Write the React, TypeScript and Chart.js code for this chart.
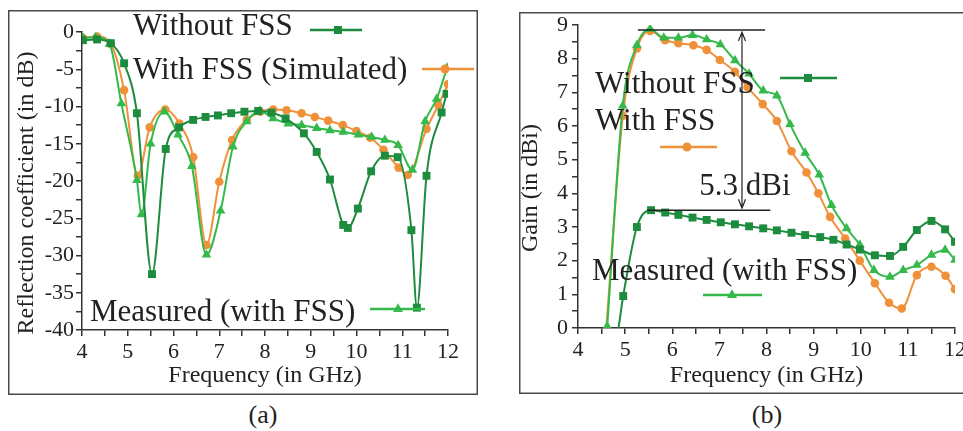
import React, { useEffect, useRef } from 'react';
import { Chart, registerables } from 'chart.js';

Chart.register(...registerables);

const SERIF = "'Liberation Serif', 'Times New Roman', serif";
const GREEN_DARK = '#1d8c3e';
const GREEN_LIGHT = '#35b94b';
const ORANGE = '#f09139';
const INK = '#222222';

// ---------- Panel (a): reflection coefficient ----------
const freqWithoutA = [4.02, 4.33, 4.63, 4.92, 5.2, 5.53, 5.83, 6.12, 6.43, 6.7, 6.97, 7.26, 7.55, 7.85, 8.14, 8.45, 8.85, 9.13, 9.42, 9.71, 9.81, 10.03, 10.32, 10.62, 10.9, 11.2, 11.32, 11.53, 11.86, 11.97];
const s11WithoutA = [-1.1, -1.0, -1.5, -4.2, -10.9, -32.5, -15.7, -12.8, -11.8, -11.4, -11.2, -10.9, -10.7, -10.6, -10.8, -11.6, -13.6, -16.1, -19.8, -25.9, -26.3, -23.7, -18.7, -16.6, -16.8, -26.6, -37.0, -19.3, -10.8, -8.3];

const freqSimA = [4.02, 4.33, 4.63, 4.92, 5.22, 5.48, 5.82, 6.13, 6.43, 6.72, 7.0, 7.28, 7.6, 7.9, 8.18, 8.47, 8.8, 9.09, 9.38, 9.7, 10.0, 10.3, 10.59, 10.92, 11.12, 11.53, 11.79, 12.0];
const s11SimA = [-0.8, -0.6, -1.6, -7.8, -19.3, -12.8, -10.4, -12.3, -16.8, -28.6, -20.1, -14.5, -11.8, -10.7, -10.4, -10.5, -10.9, -11.4, -11.9, -12.5, -13.3, -14.2, -15.8, -18.2, -19.2, -13.0, -9.8, -7.0];

const freqMeasA = [4.02, 4.3, 4.6, 4.86, 5.2, 5.3, 5.5, 5.8, 6.1, 6.4, 6.72, 7.03, 7.3, 7.6, 7.89, 8.18, 8.51, 8.8, 9.13, 9.42, 9.71, 10.04, 10.33, 10.62, 10.91, 11.22, 11.5, 11.75, 11.98];
const s11MeasA = [-0.8, -0.7, -1.6, -9.6, -19.9, -24.5, -15.0, -10.7, -13.8, -18.0, -29.9, -24.0, -15.4, -12.0, -10.6, -11.6, -12.3, -12.5, -12.9, -13.2, -13.4, -13.8, -14.1, -14.5, -15.2, -18.5, -12.0, -9.0, -4.8];

// ---------- Panel (b): gain ----------
const freqWithoutB = [4.86, 4.96, 5.25, 5.55, 5.85, 6.13, 6.43, 6.73, 7.03, 7.33, 7.63, 7.93, 8.22, 8.53, 8.82, 9.14, 9.42, 9.7, 9.98, 10.3, 10.62, 10.9, 11.19, 11.5, 11.79, 12.0];
const gainWithoutB = [0, 0.95, 3.0, 3.5, 3.43, 3.36, 3.28, 3.21, 3.14, 3.08, 3.02, 2.96, 2.9, 2.83, 2.76, 2.7, 2.62, 2.48, 2.33, 2.16, 2.14, 2.41, 2.91, 3.18, 2.93, 2.56];

const freqSimB = [4.6, 4.95, 5.25, 5.53, 5.85, 6.13, 6.45, 6.73, 7.01, 7.33, 7.6, 7.92, 8.22, 8.53, 8.85, 9.1, 9.35, 9.67, 9.98, 10.3, 10.6, 10.87, 11.19, 11.5, 11.8, 12.0];
const gainSimB = [0, 6.3, 8.3, 8.82, 8.55, 8.46, 8.4, 8.26, 7.96, 7.61, 7.15, 6.65, 6.15, 5.25, 4.62, 4.0, 3.3, 2.66, 2.0, 1.33, 0.75, 0.58, 1.57, 1.82, 1.55, 1.15];

const freqMeasB = [4.62, 4.95, 5.25, 5.53, 5.82, 6.13, 6.43, 6.73, 7.02, 7.33, 7.63, 7.93, 8.22, 8.5, 8.82, 9.12, 9.38, 9.7, 9.98, 10.28, 10.62, 10.9, 11.19, 11.5, 11.79, 12.0];
const gainMeasB = [0.05, 6.6, 8.4, 8.88, 8.62, 8.62, 8.7, 8.57, 8.42, 7.95, 7.55, 7.05, 6.9, 6.05, 5.2, 4.55, 3.65, 2.96, 2.47, 1.72, 1.52, 1.72, 1.87, 2.17, 2.32, 2.02];

// annotation of panel (b)
const annTopGain = 8.85;
const annTopFreq = [5.27, 7.97];
const annBottomGain = 3.5;
const annBottomFreq = [5.47, 8.08];
const annArrowFreq = 7.48;
const annLabel = '5.3 dBi';

const xAxisTitle = 'Frequency (in GHz)';
const yTitleA = 'Reflection coefficient (in dB)';
const yTitleB = 'Gain (in dBi)';

type Marker = 'rect' | 'circle' | 'triangle';

function drawMarker(ctx: CanvasRenderingContext2D, kind: Marker, x: number, y: number, color: string) {
  ctx.save();
  ctx.fillStyle = color;
  ctx.beginPath();
  if (kind === 'rect') ctx.rect(x - 4, y - 4, 8, 8);
  else if (kind === 'circle') ctx.arc(x, y, 4.5, 0, Math.PI * 2);
  else {
    const r = 5.8;
    ctx.moveTo(x, y - r);
    ctx.lineTo(x + r * 0.866, y + r * 0.5);
    ctx.lineTo(x - r * 0.866, y + r * 0.5);
    ctx.closePath();
  }
  ctx.fill();
  ctx.restore();
}

type LegendItem = { text: string; tx: number; ty: number; x1: number; x2: number; ly: number; mx: number; color: string; marker: Marker };

type PanelSpec = {
  width: number;
  height: number;
  area: { left: number; top: number; right: number; bottom: number };
  yMin: number;
  yMax: number;
  yStep: number;
  yMajor: number;
  yTitle: string;
  yTitlePos: { x: number; y: number };
  xTitlePad: number;
  tickPadY: number;
  frameRight: boolean;
  legend: LegendItem[];
  datasets: any[];
  annotate?: (chart: any) => void;
};

function series(xs: number[], ys: number[], label: string, color: string, marker: Marker, hideFirst = false) {
  return {
    label,
    data: xs.map((x, i) => ({ x, y: ys[i] })),
    borderColor: color,
    backgroundColor: color,
    borderWidth: 2,
    pointStyle: marker,
    pointRadius: (c: any) => (hideFirst && c.dataIndex === 0 ? 0 : marker === 'rect' ? 5.6 : marker === 'triangle' ? 5.6 : 4.3),
    pointBorderWidth: 0,
    cubicInterpolationMode: 'monotone',
    fill: false,
  };
}

function makeChart(canvas: HTMLCanvasElement, p: PanelSpec) {
  const deco = {
    id: 'panelDeco',
    beforeDraw(chart: any) {
      const ctx = chart.ctx as CanvasRenderingContext2D;
      ctx.save();
      ctx.fillStyle = '#ffffff';
      ctx.fillRect(0, 0, p.width, p.height);
      ctx.strokeStyle = '#4a4a4a';
      ctx.lineWidth = 1.5;
      ctx.beginPath();
      if (p.frameRight) {
        ctx.rect(0.75, 0.75, p.width - 1.5, p.height - 1.5);
      } else {
        ctx.moveTo(p.width + 2, 0.75);
        ctx.lineTo(0.75, 0.75);
        ctx.lineTo(0.75, p.height - 0.75);
        ctx.lineTo(p.width + 2, p.height - 0.75);
      }
      ctx.stroke();
      ctx.restore();
    },
    afterDatasetsDraw(chart: any) {
      const ctx = chart.ctx as CanvasRenderingContext2D;
      ctx.save();
      // y title
      ctx.translate(p.yTitlePos.x, p.yTitlePos.y);
      ctx.rotate(-Math.PI / 2);
      ctx.font = `24px ${SERIF}`;
      ctx.fillStyle = INK;
      ctx.textAlign = 'center';
      ctx.textBaseline = 'middle';
      ctx.fillText(p.yTitle, 0, 0);
      ctx.restore();

      if (p.annotate) p.annotate(chart);

      for (const it of p.legend) {
        ctx.save();
        ctx.font = `31px ${SERIF}`;
        ctx.fillStyle = INK;
        ctx.textAlign = 'left';
        ctx.textBaseline = 'alphabetic';
        ctx.fillText(it.text, it.tx, it.ty);
        ctx.strokeStyle = it.color;
        ctx.lineWidth = 2.5;
        ctx.beginPath();
        ctx.moveTo(it.x1, it.ly);
        ctx.lineTo(it.x2, it.ly);
        ctx.stroke();
        ctx.restore();
        drawMarker(ctx, it.marker, it.mx, it.ly, it.color);
      }
    },
  };

  return new Chart(canvas, {
    type: 'line',
    data: { datasets: p.datasets },
    options: {
      animation: false,
      responsive: false,
      events: [],
      layout: { padding: { left: 0, top: p.area.top, right: p.width - p.area.right, bottom: 0 } },
      plugins: { legend: { display: false }, tooltip: { enabled: false } },
      scales: {
        x: {
          type: 'linear',
          min: 4,
          max: 12,
          afterFit: (s: any) => {
            s.height = p.height - p.area.bottom;
            s.paddingLeft = 0;
            s.paddingRight = 0;
          },
          ticks: {
            stepSize: 0.5,
            autoSkip: false,
            maxRotation: 0,
            padding: 3,
            color: INK,
            font: { family: SERIF, size: 22 },
            callback: (v: any) => (Number.isInteger(Number(v)) ? String(v) : ''),
          },
          grid: { drawOnChartArea: false, tickLength: 6, color: '#333', lineWidth: 1.5 },
          border: { display: true, color: '#333', width: 1.5 },
          title: {
            display: true,
            text: xAxisTitle,
            color: INK,
            font: { family: SERIF, size: 24 },
            padding: { top: 0, bottom: p.xTitlePad },
          },
        },
        y: {
          type: 'linear',
          min: p.yMin,
          max: p.yMax,
          afterFit: (s: any) => {
            s.width = p.area.left;
            s.paddingTop = 0;
            s.paddingBottom = 0;
          },
          ticks: {
            stepSize: p.yStep,
            autoSkip: false,
            padding: p.tickPadY,
            color: INK,
            font: { family: SERIF, size: 22 },
            callback: (v: any) => {
              const n = Number(v);
              return Math.abs(n / p.yMajor - Math.round(n / p.yMajor)) < 1e-6 ? String(Math.round(n)) : '';
            },
          },
          grid: { drawOnChartArea: false, tickLength: 6, color: '#333', lineWidth: 1.5 },
          border: { display: true, color: '#333', width: 1.5 },
        },
      },
    } as any,
    plugins: [deco],
  });
}

const panelA: PanelSpec = {
  width: 470,
  height: 385,
  area: { left: 74, top: 22, right: 440, bottom: 320 },
  yMin: -40,
  yMax: 0,
  yStep: 2.5,
  yMajor: 5,
  yTitle: yTitleA,
  yTitlePos: { x: 19, y: 183 },
  xTitlePad: 5,
  tickPadY: 2,
  frameRight: true,
  legend: [
    { text: 'Without FSS', tx: 125, ty: 25, x1: 302, x2: 354, ly: 20, mx: 330, color: GREEN_DARK, marker: 'rect' },
    { text: 'With FSS (Simulated)', tx: 125, ty: 69, x1: 414, x2: 466, ly: 59, mx: 437, color: ORANGE, marker: 'circle' },
    { text: 'Measured (with FSS)', tx: 82, ty: 311, x1: 362, x2: 417, ly: 299, mx: 390, color: GREEN_LIGHT, marker: 'triangle' },
  ],
  datasets: [
    series(freqWithoutA, s11WithoutA, 'Without FSS', GREEN_DARK, 'rect'),
    series(freqMeasA, s11MeasA, 'Measured (with FSS)', GREEN_LIGHT, 'triangle'),
    series(freqSimA, s11SimA, 'With FSS (Simulated)', ORANGE, 'circle'),
  ],
};

const panelB: PanelSpec = {
  width: 444,
  height: 382,
  area: { left: 59, top: 13, right: 436, bottom: 316 },
  yMin: 0,
  yMax: 9,
  yStep: 0.5,
  yMajor: 1,
  yTitle: yTitleB,
  yTitlePos: { x: 12, y: 176 },
  xTitlePad: 4,
  tickPadY: 4,
  frameRight: false,
  legend: [
    { text: 'Without FSS', tx: 76, ty: 81, x1: 261, x2: 318, ly: 66, mx: 289, color: GREEN_DARK, marker: 'rect' },
    { text: 'With FSS', tx: 76, ty: 118, x1: 141, x2: 198, ly: 135, mx: 168, color: ORANGE, marker: 'circle' },
    { text: 'Measured (with FSS)', tx: 73, ty: 268, x1: 184, x2: 243, ly: 283, mx: 213, color: GREEN_LIGHT, marker: 'triangle' },
  ],
  datasets: [
    series(freqWithoutB, gainWithoutB, 'Without FSS', GREEN_DARK, 'rect', true),
    series(freqMeasB, gainMeasB, 'Measured (with FSS)', GREEN_LIGHT, 'triangle'),
    series(freqSimB, gainSimB, 'With FSS', ORANGE, 'circle', true),
  ],
  annotate: (chart: any) => {
    const ctx = chart.ctx as CanvasRenderingContext2D;
    const xs = chart.scales.x;
    const ys = chart.scales.y;
    ctx.save();
    ctx.strokeStyle = '#222';
    ctx.lineWidth = 1.5;
    ctx.beginPath();
    ctx.moveTo(xs.getPixelForValue(annTopFreq[0]), ys.getPixelForValue(annTopGain));
    ctx.lineTo(xs.getPixelForValue(annTopFreq[1]), ys.getPixelForValue(annTopGain));
    ctx.moveTo(xs.getPixelForValue(annBottomFreq[0]), ys.getPixelForValue(annBottomGain));
    ctx.lineTo(xs.getPixelForValue(annBottomFreq[1]), ys.getPixelForValue(annBottomGain));
    ctx.stroke();
    const ax = xs.getPixelForValue(annArrowFreq);
    const y1 = ys.getPixelForValue(annTopGain) + 2;
    const y2 = ys.getPixelForValue(annBottomGain) - 2;
    ctx.lineWidth = 1.2;
    ctx.beginPath();
    ctx.moveTo(ax, y1);
    ctx.lineTo(ax, y2);
    ctx.moveTo(ax - 3.5, y1 + 9);
    ctx.lineTo(ax, y1);
    ctx.lineTo(ax + 3.5, y1 + 9);
    ctx.moveTo(ax - 3.5, y2 - 9);
    ctx.lineTo(ax, y2);
    ctx.lineTo(ax + 3.5, y2 - 9);
    ctx.stroke();
    ctx.font = `31px ${SERIF}`;
    ctx.fillStyle = INK;
    ctx.textAlign = 'left';
    ctx.textBaseline = 'alphabetic';
    const wNum = ctx.measureText('5.3').width;
    ctx.fillText(annLabel, ax - wNum - 4, 183);
    ctx.restore();
  },
};

function Panel({ spec, left, top }: { spec: PanelSpec; left: number; top: number }) {
  const ref = useRef<HTMLCanvasElement | null>(null);
  useEffect(() => {
    if (!ref.current) return;
    const chart = makeChart(ref.current, spec);
    return () => chart.destroy();
  }, [spec]);
  return (
    <canvas
      ref={ref}
      width={spec.width}
      height={spec.height}
      style={{ position: 'absolute', left, top, width: spec.width, height: spec.height }}
    />
  );
}

export default function App() {
  const cap: React.CSSProperties = {
    position: 'absolute',
    width: 100,
    textAlign: 'center',
    font: `26px ${SERIF}`,
    lineHeight: '30px',
    color: INK,
  };
  return (
    <div style={{ position: 'fixed', left: 0, top: 0, width: 963, height: 431, background: '#fff', overflow: 'hidden' }}>
      <Panel spec={panelA} left={8} top={10} />
      <Panel spec={panelB} left={519} top={12} />
      <div style={{ ...cap, left: 213, top: 400 }}>(a)</div>
      <div style={{ ...cap, left: 717, top: 400 }}>(b)</div>
    </div>
  );
}
